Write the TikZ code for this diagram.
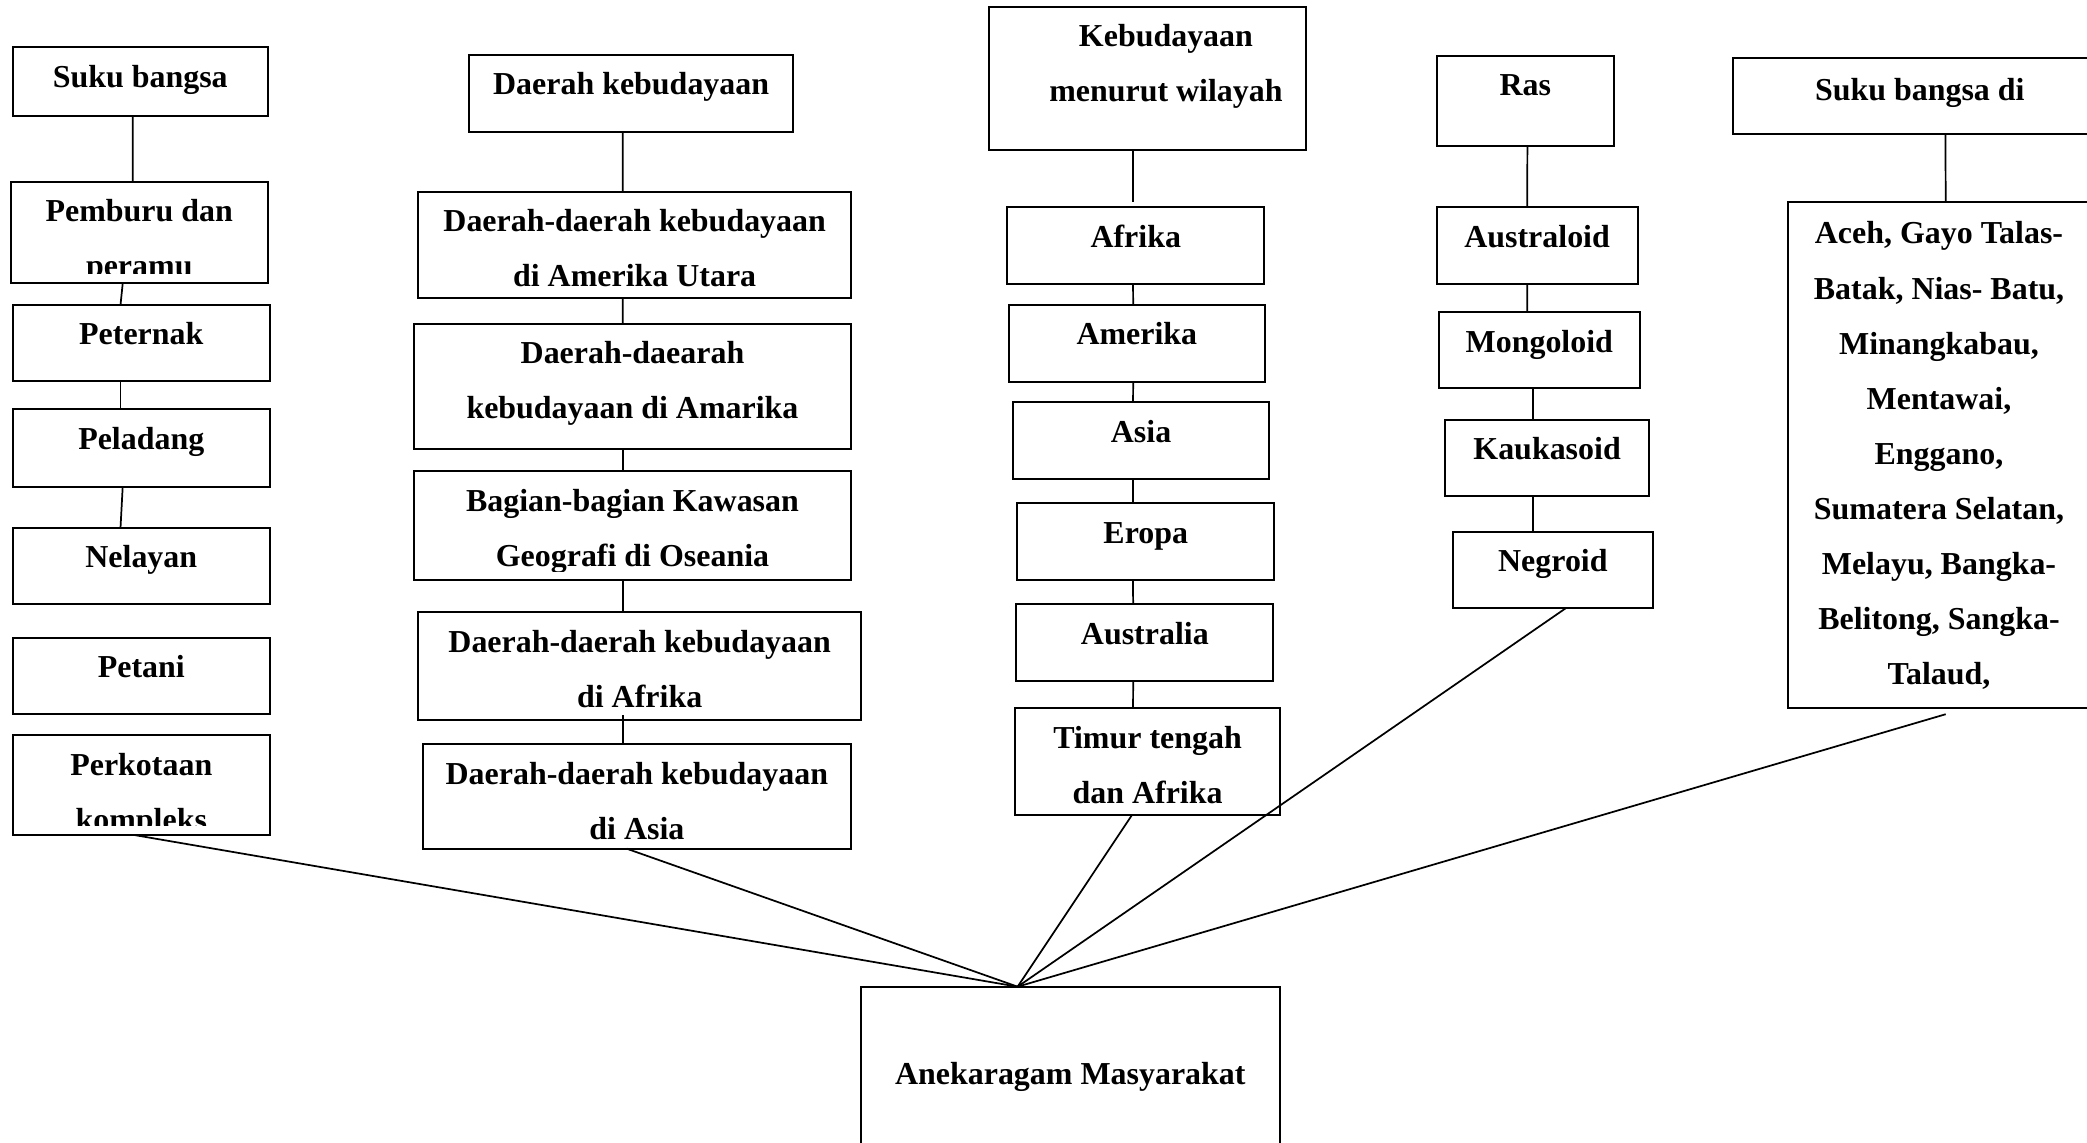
\documentclass[tikz,border=0pt]{standalone}
\usepackage{fontspec}
\setmainfont{Liberation Serif}
\usetikzlibrary{fit}

\tikzset{
  boxst/.style={draw, line width=0.75pt, inner sep=0pt, outer sep=0pt},
  lbl/.style={font=\fontsize{12}{20.7}\selectfont\bfseries, align=center, inner sep=0pt, outer sep=0pt},
  link/.style={line width=0.65pt},
}

% \tbox[text options]{name}{x1}{y1}{x2}{y2}{text}
% Framed box; its text hangs from the top edge and is cut off near the bottom edge.
\newcommand\tbox[7][]{%
  \node[boxst, fit={(#3,#4)(#5,#6)}] (#2) {};
  \begin{scope}
    \clip (#3,#4) rectangle (#5,{#6-7});
    \node[lbl, anchor=north, #1] at ({(#3+#5)/2},{#4+1}) {\strut #7};
  \end{scope}}

\begin{document}
\begin{tikzpicture}[x=0.5pt, y=-0.5pt]
\useasboundingbox (0,0) rectangle (1568,858);
\clip (0,0) rectangle (1568,858);

% Suku bangsa
\tbox{sb}{9.4}{35.6}{201.3}{87.2}{Suku bangsa}
\tbox{pd}{8}{136.5}{201.3}{212.4}{Pemburu dan\\peramu}
\tbox{pt}{9.4}{229}{202.9}{286.6}{Peternak}
\tbox{pl}{9.4}{307.6}{202.9}{365.6}{Peladang}
\tbox{nl}{9.4}{396.4}{202.9}{453.9}{Nelayan}
\tbox{pn}{9.4}{479.2}{202.9}{536.7}{Petani}
\tbox{pk}{9.4}{552.5}{202.9}{627.3}{Perkotaan\\kompleks}

% Daerah kebudayaan
\tbox{dk}{352.4}{41.3}{596}{98.9}{Daerah kebudayaan}
\tbox{dau}{314.3}{144}{639.4}{224.1}{Daerah-daerah kebudayaan\\di Amerika Utara}
\tbox{dam}{311}{243.4}{639.4}{337}{Daerah-daearah\\kebudayaan di Amarika}
\tbox{bko}{311}{354}{639.4}{436}{Bagian-bagian Kawasan\\Geografi di Oseania}
\tbox{daf}{314.3}{460}{646.9}{540.7}{Daerah-daerah kebudayaan\\di Afrika}
\tbox{das}{317.6}{559.2}{639.4}{637.6}{Daerah-daerah kebudayaan\\di Asia}

% Kebudayaan menurut wilayah
\tbox[xshift=7pt]{kw}{743}{5}{981}{113}{Kebudayaan\\menurut wilayah}
\tbox{afr}{756.8}{155.8}{949.8}{213.4}{Afrika}
\tbox{ame}{757.7}{229.2}{950.6}{286.8}{Amerika}
\tbox{asi}{761}{302.3}{953.6}{359.5}{Asia}
\tbox{ero}{764.4}{378}{957.3}{435.8}{Eropa}
\tbox{aul}{763.7}{454}{956.6}{511.7}{Australia}
\tbox{tt}{762.4}{532.2}{962}{612.3}{Timur tengah\\dan Afrika}

% Ras
\tbox{ras}{1079.4}{41.8}{1212.7}{109.4}{Ras}
\tbox{aus}{1079.4}{155.8}{1230.3}{213.4}{Australoid}
\tbox{mon}{1081}{234.7}{1232}{291.8}{Mongoloid}
\tbox{kau}{1085.7}{315.6}{1239}{372.4}{Kaukasoid}
\tbox{neg}{1091.4}{399.5}{1242}{456.8}{Negroid}

% Suku bangsa di
\tbox[yshift=-0.8pt]{sbd}{1301.8}{43.9}{1583}{100.7}{Suku bangsa di}
\tbox[yshift=-0.8pt]{ace}{1343.6}{151.7}{1570}{532}{Aceh, Gayo Talas-\\Batak, Nias- Batu,\\Minangkabau,\\Mentawai,\\Enggano,\\Sumatera Selatan,\\Melayu, Bangka-\\Belitong, Sangka-\\Talaud,}

% Anekaragam Masyarakat
\node[boxst, fit={(646.6,741.3)(961.7,880)}] (ane) {};
\node[lbl, anchor=base] (anet) at (804.15,814.5) {Anekaragam Masyarakat};
\coordinate (hub) at ([xshift=-19.8pt]ane.north);

% chains
\draw[link] ([xshift=-2.85pt]sb.south) -- ([xshift=-2.5pt]pd.north);
\draw[link] ([xshift=-6.2pt]pd.south) -- ([xshift=-7.8pt]pt.north);
\draw[link] ([xshift=-7.8pt]pt.south) -- ([xshift=-7.8pt]pl.north);
\draw[link] ([xshift=-6.98pt]pl.south) -- ([xshift=-7.8pt]nl.north);

\draw[link] ([xshift=-3.2pt]dk.south) -- ([xshift=-4.5pt]dau.north);
\draw[link] ([xshift=-4.5pt]dau.south) -- ([xshift=-3.7pt]dam.north);
\draw[link] ([xshift=-3.7pt]dam.south) -- ([xshift=-3.7pt]bko.north);
\draw[link] ([xshift=-3.7pt]bko.south) -- ([xshift=-6.4pt]daf.north);
\draw[link] ([xshift=-6.4pt,yshift=1.7pt]daf.south) -- ([xshift=-5.35pt]das.north);

\draw[link] ([xshift=-5.35pt]kw.south) -- ([xshift=-1pt,yshift=1.9pt]afr.north);
\draw[link] ([xshift=-1pt]afr.south) -- ([xshift=-1.4pt]ame.north);
\draw[link] ([xshift=-1.4pt]ame.south) -- ([xshift=-3pt]asi.north);
\draw[link] ([xshift=-3pt]asi.south) -- ([xshift=-4.8pt]ero.north);
\draw[link] ([xshift=-4.8pt]ero.south) -- ([xshift=-4.4pt]aul.north);
\draw[link] ([xshift=-4.4pt]aul.south) -- ([xshift=-5.45pt]tt.north);

\draw[link] ([xshift=0.75pt]ras.south) -- ([xshift=-3.7pt]aus.north);
\draw[link] ([xshift=-3.7pt]aus.south) -- ([xshift=-4.5pt]mon.north);
\draw[link] ([xshift=-2.35pt]mon.south) -- ([xshift=-5.3pt]kau.north);
\draw[link] ([xshift=-5.3pt]kau.south) -- ([xshift=-7.45pt]neg.north);

\draw[link] ([xshift=9.65pt]sbd.south) -- ([xshift=2.5pt]ace.north);

% branches into Anekaragam Masyarakat
\draw[link] ([xshift=-2.8pt]pk.south) -- (hub);
\draw[link] ([xshift=-3.85pt]das.south) -- (hub);
\draw[link] ([xshift=-5.85pt]tt.south) -- (hub);
\draw[link] ([xshift=4.95pt]neg.south) -- (hub);
\draw[link] ([xshift=2.5pt,yshift=-2.3pt]ace.south) -- (hub);
\end{tikzpicture}
\end{document}
